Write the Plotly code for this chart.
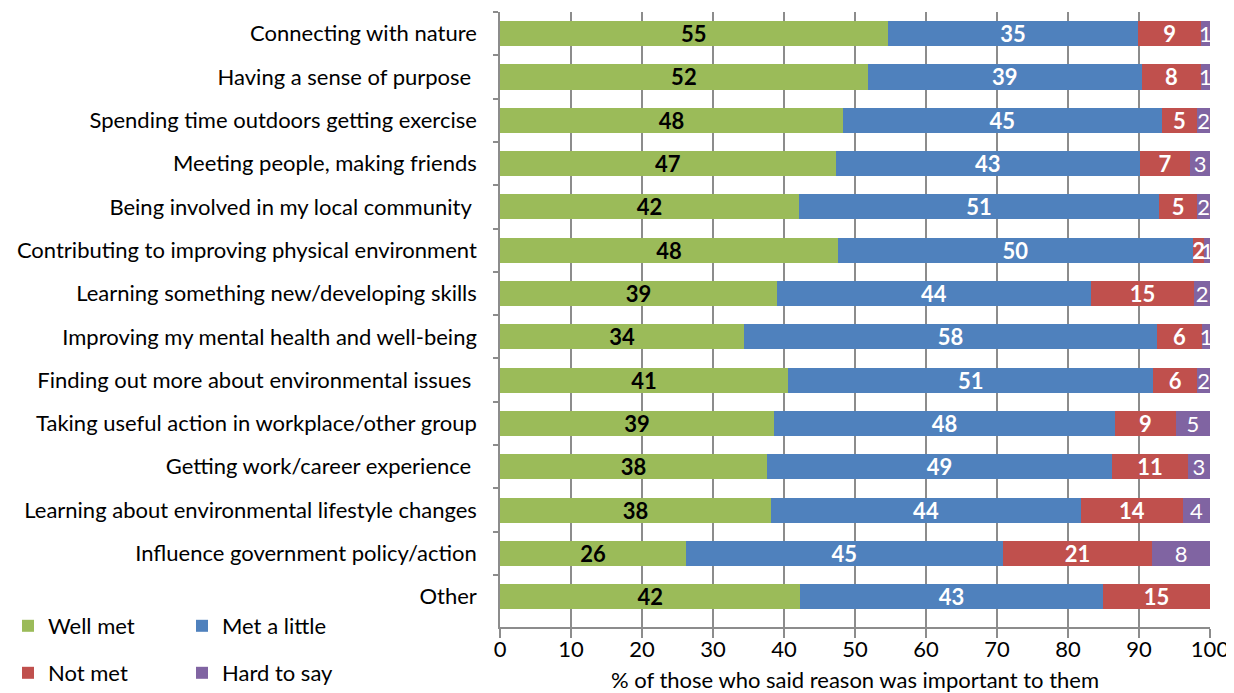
import plotly.graph_objects as go

categories = [
    "Connecting with nature",
    "Having a sense of purpose\u00a0",
    "Spending time outdoors getting exercise",
    "Meeting people, making friends",
    "Being involved in my local community\u00a0",
    "Contributing to improving physical environment",
    "Learning something new/developing skills",
    "Improving my mental health and well-being",
    "Finding out more about environmental issues\u00a0",
    "Taking useful action in workplace/other group",
    "Getting work/career experience\u00a0",
    "Learning about environmental lifestyle changes",
    "Influence government policy/action",
    "Other",
]

well_met = [54.6, 51.8, 48.3, 47.3, 42.1, 47.6, 39.0, 34.4, 40.6, 38.6, 37.6, 38.2, 26.2, 42.3]
met_a_little = [35.3, 38.6, 44.9, 42.8, 50.7, 50.0, 44.2, 58.1, 51.4, 48.0, 48.6, 43.6, 44.6, 42.6]
not_met = [8.8, 8.3, 5.0, 7.1, 5.4, 1.6, 14.6, 6.4, 6.2, 8.6, 10.7, 14.4, 21.1, 15.1]
hard_to_say = [1.3, 1.3, 1.8, 2.8, 1.8, 0.8, 2.2, 1.1, 1.8, 4.8, 3.1, 3.8, 8.1, 0.0]

x_ticks = [0, 10, 20, 30, 40, 50, 60, 70, 80, 90, 100]
x_title = "% of those who said reason was important to them"

FONT = "Lato"
FS = 22
W, H = 1226, 685  # page body has an 8px margin
series = [
    ("Well met", well_met, "#9BBB59", "black", True, "legend"),
    ("Met a little", met_a_little, "#4F81BD", "white", True, "legend"),
    ("Not met", not_met, "#C0504D", "white", True, "legend2"),
    ("Hard to say", hard_to_say, "#8064A2", "white", False, "legend2"),
]

fig = go.Figure()
for name, vals, color, tcolor, bold, leg in series:
    fig.add_trace(go.Bar(
        y=categories, x=vals, name=name, orientation="h",
        marker=dict(color=color, line=dict(width=0)),
        texttemplate=("<b>%{x:.0f}</b>" if bold else "%{x:.0f}"),
        textposition="inside", insidetextanchor="middle", textangle=0,
        textfont=dict(color=tcolor, size=FS, family=FONT),
        legend=leg,
    ))

fig.add_annotation(
    text=x_title, xref="paper", yref="paper", x=0.5, y=0, yshift=-52,
    xanchor="center", yanchor="middle", showarrow=False,
    font=dict(size=FS, family=FONT, color="black"),
)

fig.update_layout(
    width=W, height=H,
    barmode="stack", bargap=0.42,
    plot_bgcolor="white", paper_bgcolor="white",
    margin=dict(l=492, r=24, t=4, b=66, autoexpand=False),
    font=dict(family=FONT, size=FS, color="black"),
    uniformtext=dict(mode="show", minsize=FS),
    xaxis=dict(
        range=[0, 100], tickvals=x_ticks, showgrid=True, gridcolor="#8C8C8C", gridwidth=1.5,
        showline=True, linecolor="#8C8C8C", linewidth=1.5, ticks="outside", ticklen=9,
        tickcolor="#8C8C8C", tickwidth=1.5, zeroline=False, automargin=False,
        ticklabelstandoff=-7,
        tickfont=dict(size=FS, family=FONT),
    ),
    yaxis=dict(
        range=[13.7, -0.5], showline=True, linecolor="#8C8C8C", linewidth=1.5,
        ticks="outside", ticklen=5, tickcolor="#8C8C8C", tickwidth=1.5, tickson="boundaries",
        showgrid=False, ticklabelstandoff=17, automargin=False,
        tickfont=dict(size=FS, family=FONT),
    ),
    legend=dict(orientation="h", xref="container", yref="container", x=0.0, y=1 - 618 / H,
                xanchor="left", yanchor="middle", entrywidth=129, font=dict(size=FS, family=FONT),
                bgcolor="rgba(0,0,0,0)", traceorder="normal"),
    legend2=dict(orientation="h", xref="container", yref="container", x=0.0, y=1 - 665 / H,
                 xanchor="left", yanchor="middle", entrywidth=129, font=dict(size=FS, family=FONT),
                 bgcolor="rgba(0,0,0,0)", traceorder="normal"),
)

fig.write_html("out.html")
